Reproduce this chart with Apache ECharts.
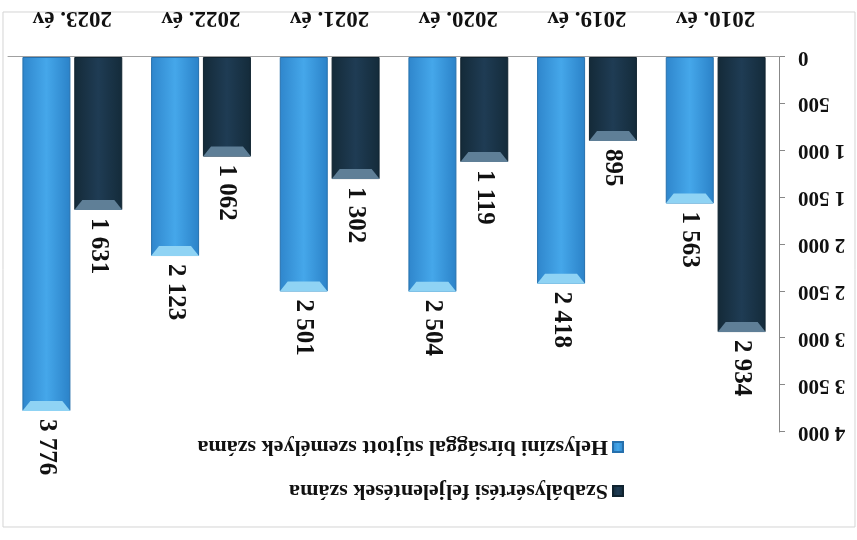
<!DOCTYPE html>
<html>
<head>
<meta charset="utf-8">
<script src="https://cdn.jsdelivr.net/npm/echarts@6/dist/echarts.min.js"></script>
<style>
  html, body { margin: 0; padding: 0; background: #fff; }
  /* the reference scan is upside down, so the whole chart is turned round */
  #chart { width: 857px; height: 540px; transform: rotate(180deg); }
</style>
</head>
<body>
<div id="chart"></div>
<script>
const years = ['2010. év', '2019. év', '2020. év', '2021. év', '2022. év', '2023. év']
const feljelentesek = [2934, 895, 1119, 1302, 1062, 1631]
const birsag = [1563, 2418, 2504, 2501, 2123, 3776]
const yTicks = [0, 500, 1000, 1500, 2000, 2500, 3000, 3500, 4000]

const nameDark = 'Szabálysértési feljelentések száma'
const nameLight = 'Helyszíni bírsággal sújtott személyek száma'

const font = 'Liberation Serif'
const barW = 48

// ezres tagolás szóközzel
const fmt = function (v) {
  return String(v).replace(/\B(?=(\d{3})+(?!\d))/g, ' ')
}

const grad = function (a, b, c) {
  return new echarts.graphic.LinearGradient(0, 0, 1, 0, [
    {offset: 0, color: a},
    {offset: 0.5, color: b},
    {offset: 1, color: c},
  ])
}

const label = {
  show: true,
  position: 'top',
  rotate: 90,
  align: 'left',
  verticalAlign: 'middle',
  distance: 8,
  fontFamily: font,
  fontWeight: 'bold',
  fontSize: 25,
  color: '#111',
  formatter: function (p) { return fmt(p.value) }
}

const bevel = function (name, data, color, dx) {
  return {
    name: name,
    type: 'pictorialBar',
    data: data,
    symbol: 'path://M0,0 L48,0 L40,10 L8,10 Z',
    symbolSize: [barW, 10],
    symbolPosition: 'end',
    symbolOffset: [dx, 0],
    itemStyle: {color: color},
    silent: true,
    z: 3,
  }
}

const chart = echarts.init(document.getElementById('chart'))

chart.setOption({
  animation: false,
  backgroundColor: '#fff',
  graphic: [{
    type: 'rect',
    shape: {x: 2, y: 13, width: 852, height: 515},
    style: {fill: 'none', stroke: '#d4d4d4', lineWidth: 1},
    silent: true,
  }],
  legend: {
    data: [nameDark, nameLight],
    orient: 'vertical',
    left: 228,
    top: 33,
    icon: 'rect',
    itemWidth: 10,
    itemHeight: 10,
    itemGap: 22,
    textStyle: {fontFamily: font, fontWeight: 'bold', fontSize: 22, color: '#111'},
  },
  grid: {left: 77, right: 8, top: 108, bottom: 57},
  xAxis: {
    type: 'category',
    data: years,
    axisLine: {lineStyle: {color: '#a0a0a0'}},
    axisTick: {show: false},
    axisLabel: {
      margin: 28,
      fontFamily: font,
      fontWeight: 'bold',
      fontSize: 23,
      color: '#111',
    },
  },
  yAxis: {
    type: 'value',
    min: yTicks[0],
    max: yTicks[yTicks.length - 1],
    interval: 500,
    splitLine: {show: false},
    axisLine: {show: true, lineStyle: {color: '#888'}},
    axisTick: {show: true, length: 5, lineStyle: {color: '#888'}},
    axisLabel: {
      margin: 18,
      fontFamily: font,
      fontWeight: 'bold',
      fontSize: 21,
      color: '#111',
      formatter: function (v) { return fmt(v) }
    },
  },
  series: [
    {
      name: nameDark,
      type: 'bar',
      data: feljelentesek,
      barWidth: barW,
      barGap: '8%',
      itemStyle: {color: grad('#142b3a', '#1f3c54', '#142a38'), borderColor: '#10232f', borderWidth: 1},
      label: label,
    },
    {
      name: nameLight,
      type: 'bar',
      data: birsag,
      barWidth: barW,
      barGap: '8%',
      itemStyle: {color: grad('#2b82c8', '#45a7ea', '#2f86cc'), borderColor: '#2670ad', borderWidth: 1},
      label: label,
    },
    bevel('b1', feljelentesek, '#5f7f97', -26),
    bevel('b2', birsag, '#8fd3f4', 26),
  ],
})
</script>
</body>
</html>
